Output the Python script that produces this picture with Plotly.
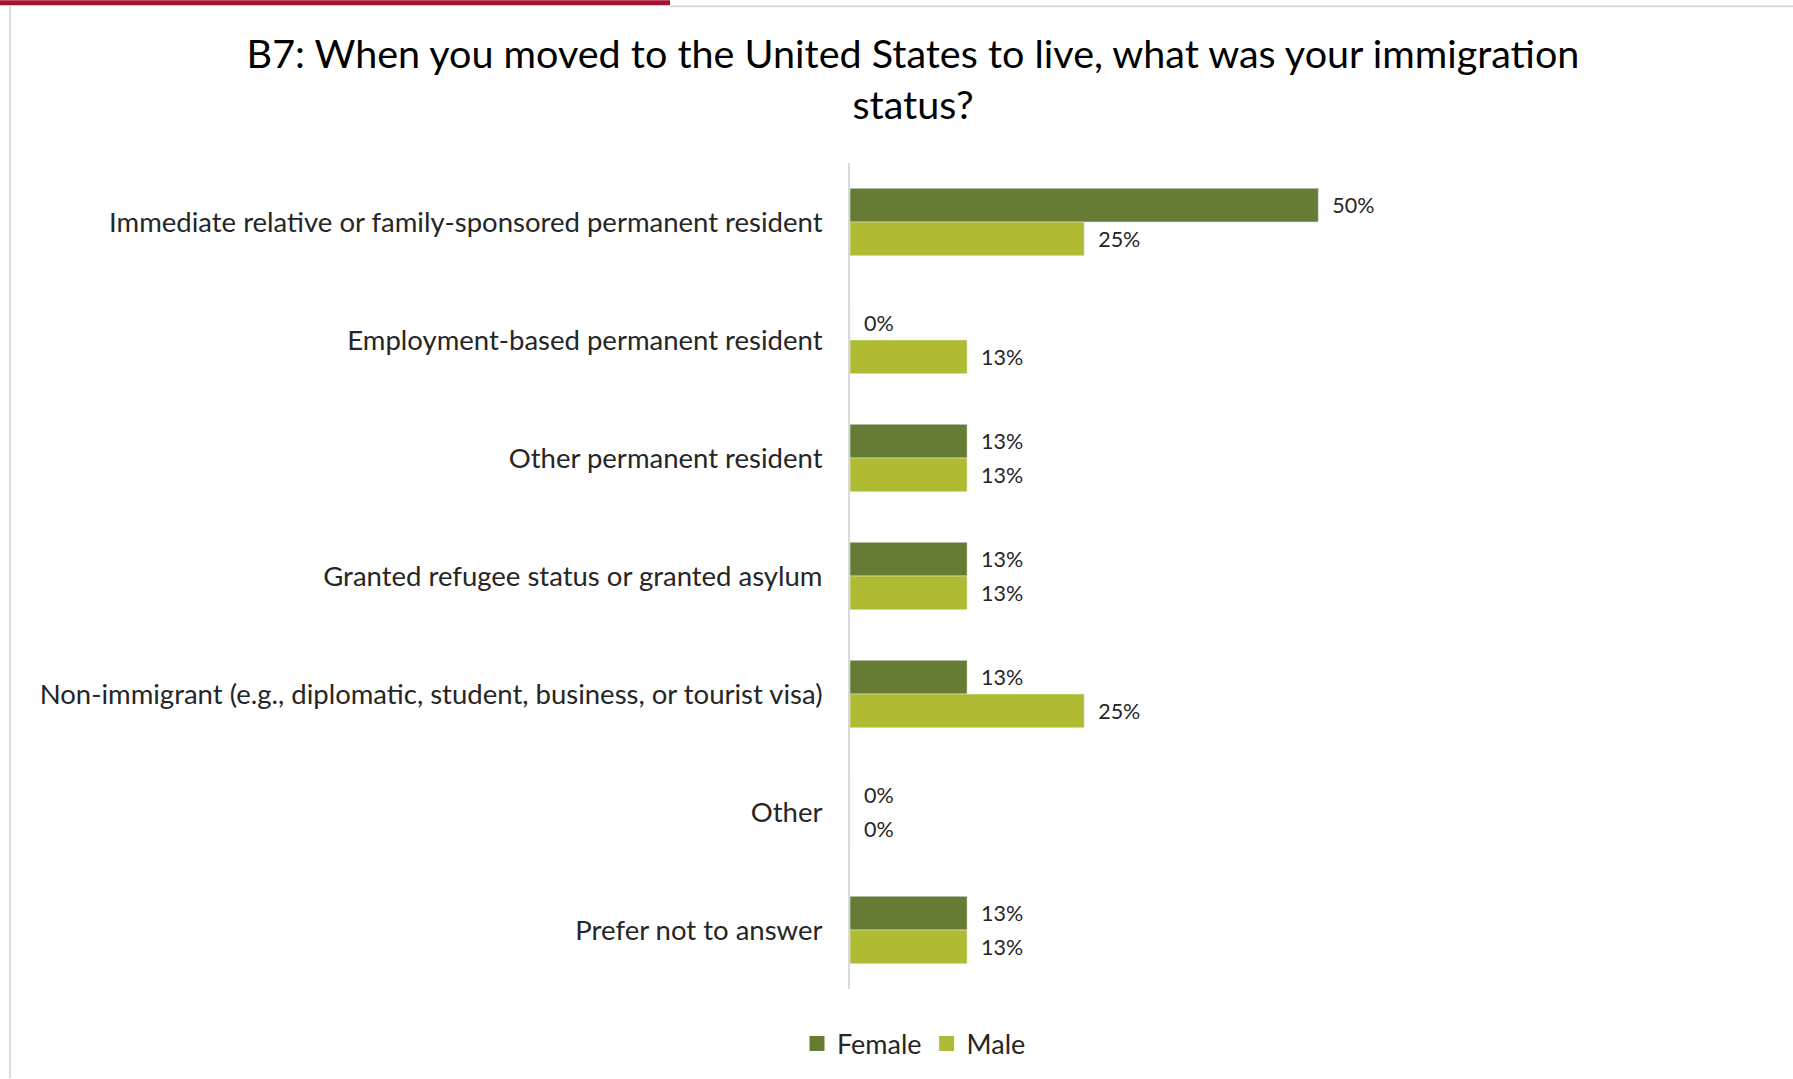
import plotly.graph_objects as go

categories = [
    "Immediate relative or family-sponsored permanent resident",
    "Employment-based permanent resident",
    "Other permanent resident",
    "Granted refugee status or granted asylum",
    "Non-immigrant (e.g., diplomatic, student, business, or tourist visa)",
    "Other",
    "Prefer not to answer",
]
series_names = ["Female", "Male"]
female = [0.50, 0.0, 0.125, 0.125, 0.125, 0.0, 0.125]
male = [0.25, 0.125, 0.125, 0.125, 0.25, 0.0, 0.125]
female_labels = ["50%", "0%", "13%", "13%", "13%", "0%", "13%"]
male_labels = ["25%", "13%", "13%", "13%", "25%", "0%", "13%"]
colors = ["#667B33", "#B0BB34"]

W, H = 1793, 1079
L, R, T, B = 850, 381, 163, 89
PW, PH = W - L - R, H - T - B

def px_x(x):
    return (x - L) / PW

def px_y(y):
    return (H - B - y) / PH

FONT = "Lato, 'Open Sans', sans-serif"
TXT = "#262626"

fig = go.Figure()
for name, vals, labels, col in zip(series_names, [female, male], [female_labels, male_labels], colors):
    fig.add_trace(go.Bar(
        y=categories, x=vals, orientation="h", name=name,
        marker=dict(color=col), showlegend=False,
        text=["\u00a0\u00a0" + t for t in labels], textposition="outside",
        textfont=dict(size=21.5, color=TXT, family=FONT), cliponaxis=False,
    ))
# legend entries with larger square swatches
for name, col in zip(series_names, colors):
    fig.add_trace(go.Scatter(
        x=[None], y=[None], mode="markers", name=name,
        marker=dict(symbol="square", size=15, color=col),
        showlegend=True, hoverinfo="skip",
    ))

shapes = [
    dict(type="rect", xref="paper", yref="paper", x0=px_x(0), x1=px_x(670),
         y0=px_y(5), y1=px_y(0), fillcolor="#A6112F", line=dict(width=0), layer="above"),
    dict(type="line", xref="paper", yref="paper", x0=px_x(670), x1=px_x(W),
         y0=px_y(6), y1=px_y(6), line=dict(color="#D9D9D9", width=2)),
    dict(type="line", xref="paper", yref="paper", x0=px_x(10), x1=px_x(10),
         y0=px_y(6), y1=px_y(H), line=dict(color="#D9D9D9", width=2)),
]

fig.update_layout(
    width=W, height=H,
    margin=dict(l=L, r=R, t=T, b=B),
    paper_bgcolor="white", plot_bgcolor="white",
    barmode="group", bargap=0.43, bargroupgap=0,
    title=dict(
        text="B7: When you moved to the United States to live, what was your immigration<br>status?",
        x=913 / W, xanchor="center", y=1 - 68 / H, yanchor="top",
        font=dict(size=39.5, color="#000000", family=FONT),
    ),
    font=dict(family=FONT, color=TXT),
    xaxis=dict(range=[0, 0.6], visible=False, fixedrange=True),
    yaxis=dict(
        autorange="reversed", showline=True, linecolor="#D9D9D9", linewidth=2,
        ticks="", ticklabelstandoff=20, showgrid=False, fixedrange=True,
        tickfont=dict(size=27.5, color=TXT, family=FONT),
    ),
    legend=dict(
        orientation="h", x=px_x(914), xanchor="center", y=px_y(1044), yanchor="middle",
        font=dict(size=27, color=TXT, family=FONT), traceorder="normal",
        itemwidth=30, tracegroupgap=0,
    ),
    shapes=shapes,
    showlegend=True,
)

fig.write_html(
    "out.html",
    config={"displayModeBar": False},
    post_script="document.body.style.margin='0';document.body.style.overflow='hidden';",
)
